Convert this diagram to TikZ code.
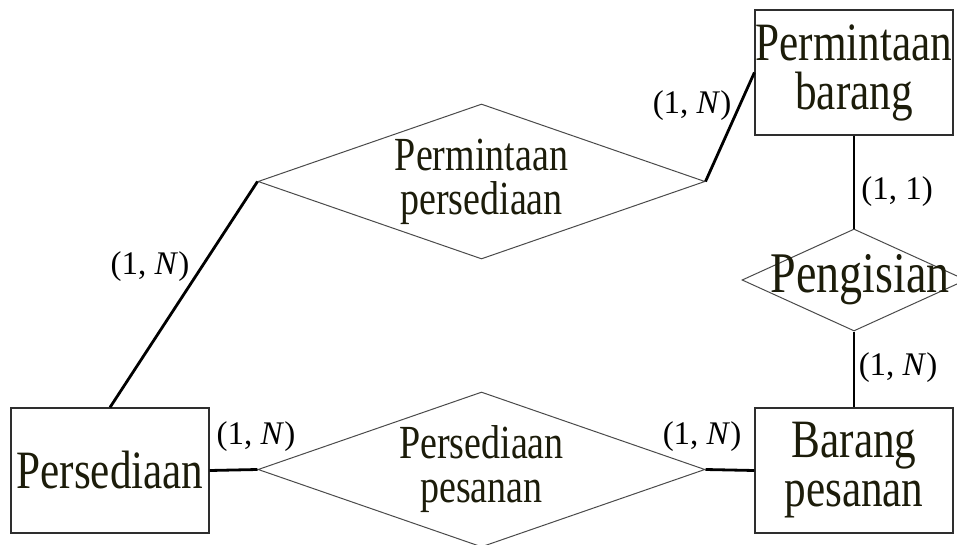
\documentclass[tikz,border=0pt]{standalone}
\usepackage{fontspec}
\setmainfont{Liberation Serif}
\newfontfamily\erdfont{Liberation Serif}[FakeStretch=0.8]
\usetikzlibrary{shapes.geometric}
\definecolor{ERDInk}{HTML}{1C1C0A}
\definecolor{ERDBox}{HTML}{2E2E2E}
\definecolor{ERDRel}{HTML}{4A4A4A}

\begin{document}
\begin{tikzpicture}[x=1pt,y=-1pt,
  entity/.style={draw=ERDBox,line width=1.2pt,minimum width=198pt,minimum height=125pt,
    inner sep=0pt,align=center,text=ERDInk,font=\erdfont\fontsize{54}{49}\selectfont},
  relation/.style={diamond,draw=ERDRel,line width=1pt,aspect=2.88,minimum width=447pt,
    minimum height=155pt,inner sep=0pt,align=center,text=ERDInk,
    font=\erdfont\fontsize{47.5}{44}\selectfont},
  relname/.style={inner sep=0pt,text=ERDInk,font=\erdfont\fontsize{57.5}{60}\selectfont},
  card/.style={inner sep=0pt,text=black,font=\fontsize{33}{36}\selectfont},
  link/.style={line width=2.8pt}]
\path[use as bounding box] (0,0) rectangle (957,545);
% entities
\node[entity] (sedia) at (110,470.5) {Persediaan};
\node[entity] (mintabrg) at (854,72.5) {Permintaan\\barang};
\node[entity] (brgpsn) at (854,470.5) {Barang\\pesanan};
% relations
\node[relation] (mintasedia) at (481.5,181.5) {Permintaan\\persediaan};
\node[relation] (sediapsn) at (481.5,469.5) {Persediaan\\pesanan};
\node[relation,aspect=2.2,minimum width=224pt,minimum height=102pt,
  label={[relname,xshift=6pt]center:Pengisian}] (isi) at (854,280) {};
% links
\draw[link] (sedia.north) -- (mintasedia.west);
\draw[link] (mintasedia.east) -- (mintabrg.west);
\draw[link] (mintabrg.south) -- (isi.north);
\draw[link] (isi.south) -- (brgpsn.north);
\draw[link] (sedia.east) -- (sediapsn.west);
\draw[link] (sediapsn.east) -- (brgpsn.west);
% cardinalities
\node[card] (c1) at (150,267) {(1, \textit{N})};
\node[card] (c2) at (692,106) {(1, \textit{N})};
\node[card] (c3) at (897,192) {(1, 1)};
\node[card] (c4) at (898,368) {(1, \textit{N})};
\node[card] (c5) at (256,437) {(1, \textit{N})};
\node[card] (c6) at (702,437) {(1, \textit{N})};
\end{tikzpicture}
\end{document}
